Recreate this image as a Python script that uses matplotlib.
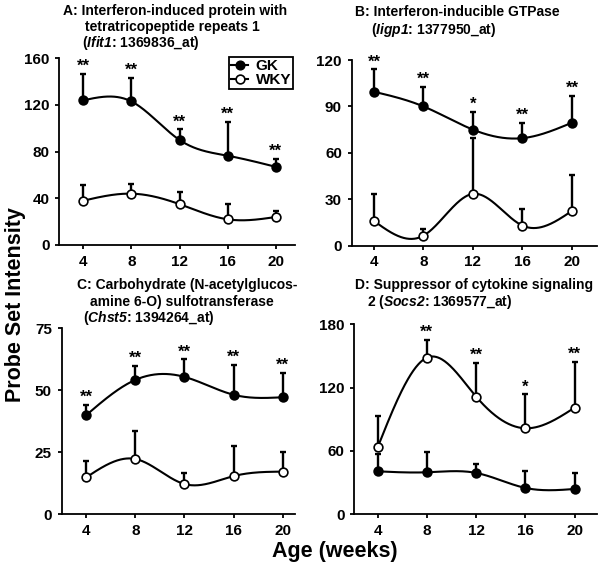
import numpy as np
import matplotlib
matplotlib.use("Agg")
import matplotlib.pyplot as plt
from matplotlib.lines import Line2D

plt.rcParams['font.family'] = ['Liberation Sans', 'DejaVu Sans']
plt.rcParams['font.weight'] = 'bold'
plt.rcParams['mathtext.fontset'] = 'custom'
plt.rcParams['mathtext.it'] = 'Liberation Sans:bold:italic'
plt.rcParams['mathtext.rm'] = 'Liberation Sans:bold:italic'

weeks = [4, 8, 12, 16, 20]

# panel A: Ifit1
a_gk = [124, 123, 90, 76.5, 67]
a_gk_top = [146.5, 143.5, 99, 105.5, 74]
a_wky = [38, 44, 35, 22, 24]
a_wky_top = [51, 52.5, 45, 35, 29]
a_stars = ['**', '**', '**', '**', '**']

# panel B: Iigp1
b_gk = [99.5, 90, 75, 69.5, 79.5]
b_gk_top = [114, 102.5, 86.5, 79.5, 97]
b_wky = [16, 6.5, 33.5, 13, 22.5]
b_wky_top = [33.5, 10.5, 69.5, 24, 45.5]
b_stars = ['**', '**', '*', '**', '**']

# panel C: Chst5
c_gk = [40, 54.2, 55.4, 48.2, 47.2]
c_gk_top = [44.2, 59.8, 62.5, 60.4, 57]
c_wky = [14.9, 22.3, 12.2, 15.4, 17.2]
c_wky_top = [21.4, 33.6, 16.7, 27.6, 25.2]
c_stars = ['**', '**', '**', '**', '**']

# panel D: Socs2
d_gk = [40.7, 39.8, 39.2, 25, 24]
d_gk_top = [56.8, 59, 47.4, 41, 39.2]
d_wky = [63.5, 148.4, 111.5, 81.5, 101]
d_wky_top = [92.8, 165, 143.7, 113.7, 144.6]
d_stars = ['', '**', '**', '*', '**']

W, H = 603, 566


def natural_spline(x, y, n=300):
    x = np.asarray(x, float)
    y = np.asarray(y, float)
    h = np.diff(x)
    k = len(x)
    A = np.zeros((k, k))
    r = np.zeros(k)
    A[0, 0] = A[-1, -1] = 1
    for i in range(1, k - 1):
        A[i, i - 1] = h[i - 1]
        A[i, i] = 2 * (h[i - 1] + h[i])
        A[i, i + 1] = h[i]
        r[i] = 6 * ((y[i + 1] - y[i]) / h[i] - (y[i] - y[i - 1]) / h[i - 1])
    M = np.linalg.solve(A, r)
    xs = np.linspace(x[0], x[-1], n)
    idx = np.clip(np.searchsorted(x, xs) - 1, 0, k - 2)
    x0, x1 = x[idx], x[idx + 1]
    hh = x1 - x0
    t0, t1 = x1 - xs, xs - x0
    ys = (M[idx] * t0**3 + M[idx + 1] * t1**3) / (6 * hh) \
        + (y[idx] / hh - M[idx] * hh / 6) * t0 \
        + (y[idx + 1] / hh - M[idx + 1] * hh / 6) * t1
    return xs, ys


def rect(l, r, t, b):
    return [l / W, 1 - b / H, (r - l) / W, (b - t) / H]


def ftext(fig, x, y, s, **kw):
    fig.text(x / W, 1 - y / H, s, **kw)


def panel(ax, gk, gk_top, wky, wky_top, stars, ymax, ystep, xlim):
    for mean, top, face in [(wky, wky_top, 'white'), (gk, gk_top, 'black')]:
        mean = np.array(mean)
        err = np.array(top) - mean
        ax.errorbar(weeks, mean, yerr=[np.zeros_like(err), err], fmt='none',
                    ecolor='black', elinewidth=1.7, capsize=2.5, capthick=1.7, zorder=2)
        xs, ys = natural_spline(weeks, mean)
        ax.plot(xs, ys, color='black', lw=1.5, zorder=3)
        ax.plot(weeks, mean, 'o', ms=6.3, mfc=face, mec='black', mew=1.2, zorder=4)
    for i, s in enumerate(stars):
        if s:
            top = max(gk_top[i], wky_top[i])
            ax.annotate(s, (weeks[i], top), xytext=(0, 0), textcoords='offset points',
                        ha='center', va='bottom', fontsize=12, fontweight='bold')
    ax.set_xlim(*xlim)
    ax.set_ylim(0, ymax)
    ax.set_xticks(weeks)
    ax.set_yticks(np.arange(0, ymax + 1, ystep))
    for sp in ['top', 'right']:
        ax.spines[sp].set_visible(False)
    for sp in ['left', 'bottom']:
        ax.spines[sp].set_linewidth(1.3)
    ax.tick_params(direction='out', length=3, width=1.3, labelsize=11, pad=4)
    for lab in ax.get_xticklabels() + ax.get_yticklabels():
        lab.set_fontweight('bold')


fig = plt.figure(figsize=(W / 100, H / 100), dpi=100)

axA = fig.add_axes(rect(59.3, 295, 58.3, 245))
axB = fig.add_axes(rect(351.7, 596.7, 60, 245.7))
axC = fig.add_axes(rect(61.7, 295, 328.3, 514.3))
axD = fig.add_axes(rect(354.3, 596.7, 324.3, 514.3))

panel(axA, a_gk, a_gk_top, a_wky, a_wky_top, a_stars, 160, 40, (2, 21.6))
panel(axB, b_gk, b_gk_top, b_wky, b_wky_top, b_stars, 120, 30, (2.2, 22))
panel(axC, c_gk, c_gk_top, c_wky, c_wky_top, c_stars, 75, 25, (2, 21))
panel(axD, d_gk, d_gk_top, d_wky, d_wky_top, d_stars, 180, 60, (2.1, 21.8))

tk = dict(fontsize=10, fontweight='bold', va='center')
ftext(fig, 175, 11, 'A: Interferon-induced protein with', ha='center', **tk)
ftext(fig, 172, 27, 'tetratricopeptide repeats 1', ha='center', **tk)
ftext(fig, 82, 43, r'($\mathit{Ifit1}$: 1369836_at)', ha='left', **tk)
ftext(fig, 355, 12, 'B: Interferon-inducible GTPase', ha='left', **tk)
ftext(fig, 371, 30, r'($\mathit{Iigp1}$: 1377950_at)', ha='left', **tk)
ftext(fig, 77, 285, 'C: Carbohydrate (N-acetylglucos-', ha='left', **tk)
ftext(fig, 90, 302, 'amine 6-O) sulfotransferase', ha='left', **tk)
ftext(fig, 83, 318, r'($\mathit{Chst5}$: 1394264_at)', ha='left', **tk)
ftext(fig, 355, 285, 'D: Suppressor of cytokine signaling', ha='left', **tk)
ftext(fig, 367, 302, r'2 ($\mathit{Socs2}$: 1369577_at)', ha='left', **tk)

ftext(fig, 16, 305, 'Probe Set Intensity', rotation=90, ha='center', va='center',
      fontsize=15.5, fontweight='bold')
ftext(fig, 335, 551, 'Age (weeks)', ha='center', va='center', fontsize=15.5, fontweight='bold')

handles = [
    Line2D([], [], color='black', lw=1.5, marker='o', ms=6.3, mfc='black', mec='black'),
    Line2D([], [], color='black', lw=1.5, marker='o', ms=6.3, mfc='white', mec='black', mew=1.2),
]
leg = axA.legend(handles, ['GK', 'WKY'], loc='upper right',
                 bbox_to_anchor=(293 / W, 1 - 57 / H), bbox_transform=fig.transFigure,
                 prop={'weight': 'bold', 'size': 11}, fancybox=False, edgecolor='black',
                 framealpha=1, handlelength=1.1, handleheight=0.6, handletextpad=0.5,
                 borderpad=0.12, labelspacing=0.0, borderaxespad=0)
leg.get_frame().set_linewidth(1.3)

fig.savefig('out.png', dpi=100)
